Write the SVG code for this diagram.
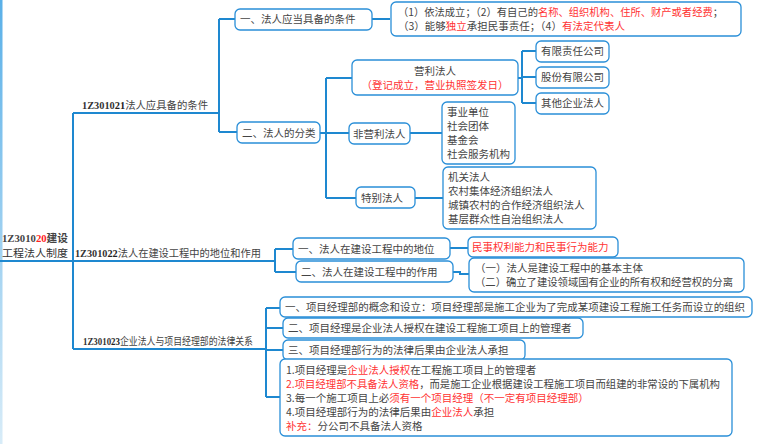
<svg xmlns="http://www.w3.org/2000/svg" width="760" height="444" viewBox="0 0 760 444">
<style>
text{font-family:"Noto Sans CJK SC","Liberation Serif",serif;font-size:10.5px;fill:#444}
.b{fill:#fff;stroke:#2a8fd8;stroke-width:1.3}
.r{fill:#f33}
.c{fill:none;stroke:#1e88d0;stroke-width:2}
.h{font-family:"Liberation Serif","Noto Sans CJK SC",serif;font-weight:bold}
</style>
<defs><linearGradient id="g" x1="0" y1="0" x2="0" y2="1"><stop offset="0" stop-color="#5ab0e8"/><stop offset="1" stop-color="#d8ecf8"/></linearGradient></defs>
<rect x="0" y="0" width="2.5" height="444" fill="url(#g)"/>
<g id="connectors" class="c">
<path d="M0 261H73M73 113V349M73 113H219M73 261H275M73 349H266"/>
<path d="M219 19V132M219 19H235M219 132H237M372 19H390"/>
<path d="M320 133H326M326 78V198M326 78H352M326 133H349M326 198H356"/>
<path d="M518 78H522M522 51V103M522 51H536M522 77H536M522 103H536"/>
<path d="M410 133H442M415 198H443"/>
<path d="M275 249V272M275 249H293M275 272H296M450 248H468M453 272H460V274H469"/>
<path d="M266 308V397M266 308H280M266 328H283M266 350H283M266 397H280"/>
</g>
<g id="root"><text x="2" y="242" class="h" font-size="11" fill="#222" textLength="66" lengthAdjust="spacingAndGlyphs">1Z3010<tspan fill="#f22">20</tspan>建设</text><text x="2" y="257" style="fill:#333" textLength="66" lengthAdjust="spacingAndGlyphs">工程法人制度</text></g>
<g id="b1"><text x="82" y="109" textLength="126" lengthAdjust="spacingAndGlyphs"><tspan class="h" fill="#333">1Z3010</tspan><tspan class="h" fill="#222">21</tspan>法人应具备的条件</text></g>
<g id="b2"><text x="75" y="257" textLength="186" lengthAdjust="spacingAndGlyphs"><tspan class="h" fill="#333">1Z3010</tspan><tspan class="h" fill="#222">22</tspan>法人在建设工程中的地位和作用</text></g>
<g id="b3"><text x="83" y="345" font-size="9.5" textLength="170" lengthAdjust="spacingAndGlyphs"><tspan class="h" fill="#333">1Z3010</tspan><tspan class="h" fill="#222">23</tspan>企业法人与项目经理部的法律关系</text></g>
<g id="n1"><rect class="b" x="235" y="9" width="137" height="21" rx="5"/><text x="240" y="23">一、法人应当具备的条件</text></g>
<g id="n1a"><rect class="b" x="391" y="2" width="350" height="34" rx="5"/><text x="398" y="16" textLength="325" lengthAdjust="spacingAndGlyphs">（1）依法成立；（2）有自己的<tspan class="r">名称、组织机构、住所、财产或者经费</tspan>；</text><text x="398" y="30">（3）能够<tspan class="r">独立</tspan>承担民事责任；（4）<tspan class="r">有法定代表人</tspan></text></g>
<g id="n2"><rect class="b" x="237" y="122" width="83" height="21" rx="5"/><text x="242" y="137">二、法人的分类</text></g>
<g id="n2a"><rect class="b" x="352" y="60" width="166" height="35" rx="5"/><text x="435" y="75" text-anchor="middle">营利法人</text><text x="435" y="89" text-anchor="middle" class="r">（登记成立，营业执照签发日）</text></g>
<g id="n2a1"><rect class="b" x="536" y="41" width="73" height="21" rx="5"/><text x="541" y="55">有限责任公司</text></g>
<g id="n2a2"><rect class="b" x="536" y="67" width="73" height="21" rx="5"/><text x="541" y="81">股份有限公司</text></g>
<g id="n2a3"><rect class="b" x="536" y="93" width="73" height="21" rx="5"/><text x="541" y="107">其他企业法人</text></g>
<g id="n2b"><rect class="b" x="349" y="123" width="61" height="21" rx="5"/><text x="353" y="138">非营利法人</text></g>
<g id="n2b1"><rect class="b" x="442" y="102" width="73" height="62" rx="5"/><text x="447" y="116">事业单位</text><text x="447" y="130">社会团体</text><text x="447" y="144">基金会</text><text x="447" y="158">社会服务机构</text></g>
<g id="n2c"><rect class="b" x="356" y="187" width="59" height="21" rx="5"/><text x="361" y="202">特别法人</text></g>
<g id="n2c1"><rect class="b" x="443" y="167" width="153" height="62" rx="5"/><text x="448" y="181">机关法人</text><text x="448" y="195">农村集体经济组织法人</text><text x="448" y="209">城镇农村的合作经济组织法人</text><text x="448" y="223">基层群众性自治组织法人</text></g>
<g id="n3"><rect class="b" x="293" y="238" width="157" height="21" rx="5"/><text x="298" y="253">一、法人在建设工程中的地位</text></g>
<g id="n3a"><rect class="b" x="468" y="237" width="150" height="20" rx="5"/><text x="472" y="251" class="r">民事权利能力和民事行为能力</text></g>
<g id="n4"><rect class="b" x="296" y="261" width="157" height="21" rx="5"/><text x="301" y="276">二、法人在建设工程中的作用</text></g>
<g id="n4a"><rect class="b" x="469" y="258" width="275" height="34" rx="5"/><text x="475" y="272">（一）法人是建设工程中的基本主体</text><text x="475" y="286" textLength="258" lengthAdjust="spacingAndGlyphs">（二）确立了建设领域国有企业的所有权和经营权的分离</text></g>
<g id="n5"><rect class="b" x="280" y="297" width="472" height="20" rx="5"/><text x="285" y="311" textLength="460" lengthAdjust="spacingAndGlyphs">一、项目经理部的概念和设立：项目经理部是施工企业为了完成某项建设工程施工任务而设立的组织</text></g>
<g id="n6"><rect class="b" x="283" y="318" width="300" height="20" rx="5"/><text x="288" y="332">二、项目经理是企业法人授权在建设工程施工项目上的管理者</text></g>
<g id="n7"><rect class="b" x="283" y="340" width="242" height="20" rx="5"/><text x="288" y="354">三、项目经理部行为的法律后果由企业法人承担</text></g>
<g id="n8"><rect class="b" x="280" y="359" width="452" height="77" rx="5"/>
<text x="286" y="374">1.项目经理是<tspan class="r">企业法人授权</tspan>在工程施工项目上的管理者</text>
<text x="286" y="388" textLength="434" lengthAdjust="spacingAndGlyphs"><tspan class="r">2.项目经理部不具备法人资格</tspan>，而是施工企业根据建设工程施工项目而组建的非常设的下属机构</text>
<text x="286" y="402">3.每一个施工项目上必<tspan class="r">须有一个项目经理（不一定有项目经理部）</tspan></text>
<text x="286" y="416">4.项目经理部行为的法律后果由<tspan class="r">企业法人</tspan>承担</text>
<text x="286" y="430"><tspan class="r">补充：</tspan>分公司不具备法人资格</text></g>
</svg>
